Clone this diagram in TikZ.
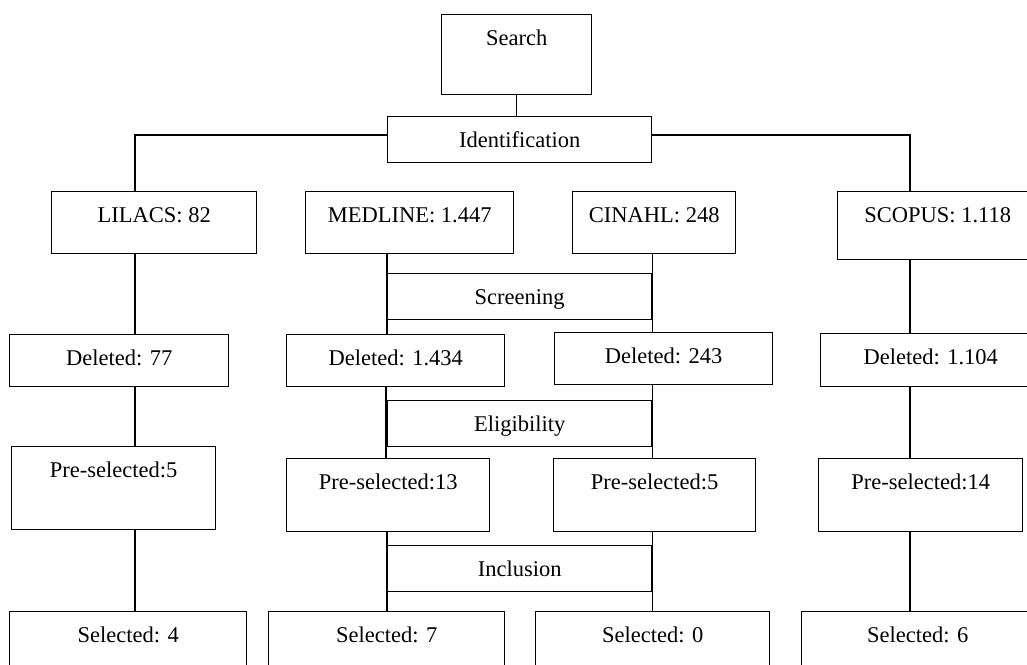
\documentclass[tikz,border=0pt]{standalone}
\usepackage{fontspec}
\setmainfont{Liberation Serif}
\begin{document}
\begin{tikzpicture}[x=1pt,y=-1pt,
  box/.style n args={3}{draw, line width=1.4pt, anchor=north west, inner xsep=0pt, inner ysep=0pt,
    minimum width=#1, text height=31pt, text depth=#2, font=\fontsize{22.5}{26}\selectfont},
  link/.style={line width=1.3pt}]
\useasboundingbox (0,0) rectangle (1027,664);
\clip (0,0) rectangle (1027,664);
% top
\node[box={150pt}{49pt}{}] (search) at (441,14) {Search};
\node[box={264pt}{15pt}{}] (ident) at (387,116) {Identification};
% databases
\node[box={205pt}{31pt}{}] (lil) at (51,191) {LILACS: 82};
\node[box={208pt}{31pt}{}] (med) at (305,191) {MEDLINE: 1.447};
\node[box={163pt}{31pt}{}] (cin) at (572,191) {CINAHL: 248};
\node[box={200pt}{37pt}{}] (sco) at (837,191) {SCOPUS: 1.118};
% screening
\node[box={264pt}{15pt}{}] (scr) at (387,273) {Screening};
\node[box={219pt}{21pt}{}] (dlil) at (9,334) {Deleted: 77};
\node[box={218pt}{21pt}{}] (dmed) at (286,334) {Deleted: 1.434};
\node[box={218pt}{21pt}{}] (dcin) at (554,332) {Deleted: 243};
\node[box={220pt}{22pt}{}] (dsco) at (820,333) {Deleted: 1.104};
% eligibility
\node[box={264pt}{15pt}{}] (elig) at (387,400) {Eligibility};
\node[box={204pt}{52pt}{}] (plil) at (11,446) {Pre-selected:5};
\node[box={203pt}{42pt}{}] (pmed) at (286,458) {Pre-selected:13};
\node[box={202pt}{42pt}{}] (pcin) at (553,458) {Pre-selected:5};
\node[box={204pt}{42pt}{}] (psco) at (818,458) {Pre-selected:14};
% inclusion
\node[box={264pt}{15pt}{}] (incl) at (387,545) {Inclusion};
\node[box={237pt}{49pt}{}] (slil) at (9,611) {Selected: 4};
\node[box={236pt}{49pt}{}] (smed) at (268,611) {Selected: 7};
\node[box={234pt}{49pt}{}] (scin) at (535,611) {Selected: 0};
\node[box={232pt}{49pt}{}] (ssco) at (801,611) {Selected: 6};
% connectors
\draw[link] (search.south) -- (search.south |- ident.north);
\coordinate (lx) at ([xshift=84pt]lil.north west);
\coordinate (sx) at ([xshift=73pt]sco.north west);
\draw[link] (ident.west |- 0,135) -| (lx);
\draw[link] (ident.east |- 0,135) -| (sx);
% LILACS column
\draw[link] (lx |- lil.south) -- (lx |- dlil.north);
\draw[link] (lx |- dlil.south) -- (lx |- plil.north);
\draw[link] (lx |- plil.south) -- (lx |- slil.north);
% MEDLINE column
\draw[link] (scr.west |- med.south) -- (scr.west |- dmed.north);
\draw[link] ([xshift=-1pt]elig.west |- dmed.south) -- ([xshift=-1pt]elig.west |- pmed.north);
\draw[link] (incl.west |- pmed.south) -- (incl.west |- smed.north);
% CINAHL column
\draw[link] (scr.east |- cin.south) -- (scr.east |- dcin.north);
\draw[link] (elig.east |- dcin.south) -- (elig.east |- pcin.north);
\draw[link] (incl.east |- pcin.south) -- (incl.east |- scin.north);
% SCOPUS column
\draw[link] (sx |- sco.south) -- (sx |- dsco.north);
\draw[link] (sx |- dsco.south) -- (sx |- psco.north);
\draw[link] (sx |- psco.south) -- (sx |- ssco.north);
\end{tikzpicture}
\end{document}
